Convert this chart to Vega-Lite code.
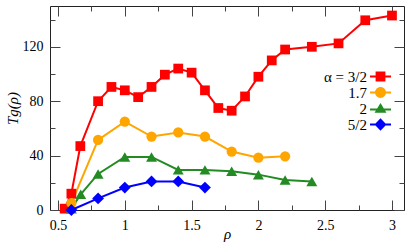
{
 "$schema": "https://vega.github.io/schema/vega-lite/v6.json",
 "width": 354, "height": 204,
 "autosize": "none",
 "padding": {"left": 50, "top": 6, "right": 11, "bottom": 39},
 "config": {
  "view": {"stroke": "#222", "strokeWidth": 1},
  "font": "Liberation Serif",
  "axis": {"grid": false, "domain": false, "labelFont": "Liberation Serif", "labelFontSize": 14, "labelColor": "#000", "tickColor": "#444", "tickWidth": 1, "titleFont": "Liberation Serif", "titleFontSize": 15, "titleFontWeight": "normal", "titleColor": "#000"},
  "legend": {"labelFont": "Liberation Serif"}
 },
 "data": {"values": [
  {"rho": 0.55, "Tg": 1, "series": "3/2"},
  {"rho": 0.6, "Tg": 12, "series": "3/2"},
  {"rho": 0.667, "Tg": 47, "series": "3/2"},
  {"rho": 0.8, "Tg": 80, "series": "3/2"},
  {"rho": 0.9, "Tg": 90.5, "series": "3/2"},
  {"rho": 1.0, "Tg": 88, "series": "3/2"},
  {"rho": 1.1, "Tg": 83, "series": "3/2"},
  {"rho": 1.2, "Tg": 90.5, "series": "3/2"},
  {"rho": 1.3, "Tg": 99.5, "series": "3/2"},
  {"rho": 1.4, "Tg": 104, "series": "3/2"},
  {"rho": 1.5, "Tg": 101, "series": "3/2"},
  {"rho": 1.6, "Tg": 88, "series": "3/2"},
  {"rho": 1.7, "Tg": 75, "series": "3/2"},
  {"rho": 1.8, "Tg": 73, "series": "3/2"},
  {"rho": 1.9, "Tg": 83.5, "series": "3/2"},
  {"rho": 2.0, "Tg": 98, "series": "3/2"},
  {"rho": 2.1, "Tg": 110, "series": "3/2"},
  {"rho": 2.2, "Tg": 118, "series": "3/2"},
  {"rho": 2.4, "Tg": 120, "series": "3/2"},
  {"rho": 2.6, "Tg": 122.5, "series": "3/2"},
  {"rho": 2.8, "Tg": 139.5, "series": "3/2"},
  {"rho": 3.0, "Tg": 143, "series": "3/2"},
  {"rho": 0.6, "Tg": 5, "series": "1.7"},
  {"rho": 0.8, "Tg": 51.5, "series": "1.7"},
  {"rho": 1.0, "Tg": 65, "series": "1.7"},
  {"rho": 1.2, "Tg": 54, "series": "1.7"},
  {"rho": 1.4, "Tg": 57, "series": "1.7"},
  {"rho": 1.6, "Tg": 54, "series": "1.7"},
  {"rho": 1.8, "Tg": 43, "series": "1.7"},
  {"rho": 2.0, "Tg": 38.5, "series": "1.7"},
  {"rho": 2.2, "Tg": 39.5, "series": "1.7"},
  {"rho": 0.6, "Tg": 1, "series": "2"},
  {"rho": 0.67, "Tg": 11.5, "series": "2"},
  {"rho": 0.8, "Tg": 26.5, "series": "2"},
  {"rho": 1.0, "Tg": 39, "series": "2"},
  {"rho": 1.2, "Tg": 39, "series": "2"},
  {"rho": 1.4, "Tg": 29.5, "series": "2"},
  {"rho": 1.6, "Tg": 29.5, "series": "2"},
  {"rho": 1.8, "Tg": 28.5, "series": "2"},
  {"rho": 2.0, "Tg": 26, "series": "2"},
  {"rho": 2.2, "Tg": 22, "series": "2"},
  {"rho": 2.4, "Tg": 21, "series": "2"},
  {"rho": 0.6, "Tg": 0, "series": "5/2"},
  {"rho": 0.8, "Tg": 8.5, "series": "5/2"},
  {"rho": 1.0, "Tg": 16.5, "series": "5/2"},
  {"rho": 1.2, "Tg": 21, "series": "5/2"},
  {"rho": 1.4, "Tg": 21, "series": "5/2"},
  {"rho": 1.6, "Tg": 16.5, "series": "5/2"}
 ]},
 "resolve": {"axis": {"x": "independent", "y": "independent"}},
 "layer": [
  {
   "mark": {"type": "line", "strokeWidth": 2},
   "encoding": {
    "x": {"field": "rho", "type": "quantitative", "scale": {"domain": [0.44, 3.09], "nice": false, "zero": false},
          "axis": {"orient": "bottom", "values": [0.5, 1, 1.5, 2, 2.5, 3], "format": "~g", "tickSize": -10, "labelPadding": 18, "labelFont": "Liberation Serif", "title": "ρ", "titleFont": "Liberation Serif", "titleFontStyle": "italic", "titlePadding": -6}},
    "y": {"field": "Tg", "type": "quantitative", "scale": {"domain": [0, 150], "nice": false},
          "axis": {"orient": "left", "values": [0, 40, 80, 120], "tickSize": -10, "labelPadding": 17, "labelFont": "Liberation Serif", "title": "Tg(ρ)", "titleFont": "Liberation Serif", "titleFontStyle": "italic", "titlePadding": 2}},
    "color": {"field": "series", "type": "nominal", "scale": {"domain": ["3/2", "1.7", "2", "5/2"], "range": ["#ff0000", "#ffa500", "#228b22", "#0000ff"]}}
   }
  },
  {
   "transform": [{"filter": "datum.series == '3/2'"}],
   "mark": {"type": "point", "filled": true, "opacity": 1, "shape": "square", "size": 95},
   "encoding": {
    "x": {"field": "rho", "type": "quantitative", "axis": {"orient": "bottom", "values": [0.75, 1.25, 1.75, 2.25, 2.75], "tickSize": -5, "labels": false, "title": null}},
    "y": {"field": "Tg", "type": "quantitative", "axis": {"orient": "left", "values": [20, 60, 100, 140], "tickSize": -5, "labels": false, "title": null}},
    "color": {"field": "series", "type": "nominal"}
   }
  },
  {
   "transform": [{"filter": "datum.series == '1.7'"}],
   "mark": {"type": "point", "filled": true, "opacity": 1, "shape": "circle", "size": 105},
   "encoding": {
    "x": {"field": "rho", "type": "quantitative", "axis": null},
    "y": {"field": "Tg", "type": "quantitative", "axis": null},
    "color": {"field": "series", "type": "nominal"}
   }
  },
  {
   "transform": [{"filter": "datum.series == '2'"}],
   "mark": {"type": "point", "filled": true, "opacity": 1, "shape": "triangle-up", "size": 120},
   "encoding": {
    "x": {"field": "rho", "type": "quantitative", "axis": null},
    "y": {"field": "Tg", "type": "quantitative", "axis": null},
    "color": {"field": "series", "type": "nominal"}
   }
  },
  {
   "transform": [{"filter": "datum.series == '5/2'"}],
   "mark": {"type": "point", "filled": true, "opacity": 1, "shape": "diamond", "size": 140},
   "encoding": {
    "x": {"field": "rho", "type": "quantitative", "axis": null},
    "y": {"field": "Tg", "type": "quantitative", "axis": null},
    "color": {"field": "series", "type": "nominal"}
   }
  },
  {
   "mark": {"type": "point", "filled": true, "opacity": 0},
   "encoding": {
    "x": {"field": "rho", "type": "quantitative", "axis": {"orient": "top", "values": [0.5, 1, 1.5, 2, 2.5, 3], "tickSize": -10, "labels": false, "title": null}},
    "y": {"field": "Tg", "type": "quantitative", "axis": {"orient": "right", "values": [0, 40, 80, 120], "tickSize": -10, "labels": false, "title": null}},
    "color": {"field": "series", "type": "nominal",
             "legend": {"title": null, "orient": "none", "legendX": 323, "legendY": 63, "padding": 0, "symbolSize": 196, "symbolOpacity": 1, "symbolStrokeWidth": 0, "rowPadding": -6, "labelAlign": "right", "labelOffset": -21, "labelFont": "Liberation Serif", "labelFontSize": 15, "labelColor": "#000", "labelLimit": 200, "labelExpr": "datum.label == '3/2' ? 'α = 3/2' : datum.label"}},
    "shape": {"field": "series", "type": "nominal", "scale": {"domain": ["3/2", "1.7", "2", "5/2"], "range": ["M-1.5,-0.15H1.5V0.15H-1.5ZM-0.7,-0.7H0.7V0.7H-0.7Z", "M-1.5,-0.15H1.5V0.15H-1.5ZM-0.78,0A0.78,0.78,0,1,1,0.78,0A0.78,0.78,0,1,1,-0.78,0Z", "M-1.5,0H1.5V0.3H-1.5ZM-0.85,0.6L0,-0.8L0.85,0.6Z", "M-1.5,-0.15H1.5V0.15H-1.5ZM0,-0.9L0.85,0L0,0.9L-0.85,0Z"]},
             "legend": {"title": null, "orient": "none", "legendX": 323, "legendY": 63, "padding": 0, "symbolSize": 196, "symbolOpacity": 1, "symbolStrokeWidth": 0, "rowPadding": -6, "labelAlign": "right", "labelOffset": -21, "labelFont": "Liberation Serif", "labelFontSize": 15, "labelColor": "#000", "labelLimit": 200, "labelExpr": "datum.label == '3/2' ? 'α = 3/2' : datum.label"}}
   }
  },
  {
   "mark": {"type": "point", "opacity": 0},
   "encoding": {
    "x": {"field": "rho", "type": "quantitative", "axis": {"orient": "top", "values": [0.75, 1.25, 1.75, 2.25, 2.75], "tickSize": -5, "labels": false, "title": null}},
    "y": {"field": "Tg", "type": "quantitative", "axis": {"orient": "right", "values": [20, 60, 100, 140], "tickSize": -5, "labels": false, "title": null}}
   }
  }
 ]
}
